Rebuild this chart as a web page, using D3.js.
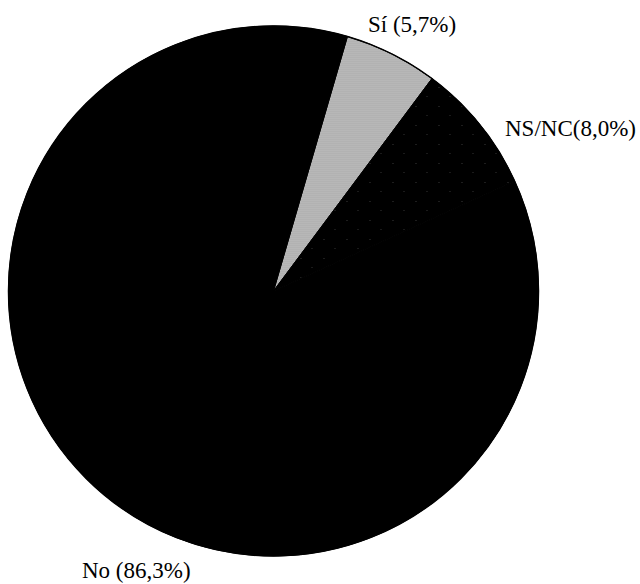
<!DOCTYPE html>
<html>
<head>
<meta charset="utf-8">
<script src="https://cdn.jsdelivr.net/npm/d3@7"></script>
<style>
  html, body { margin: 0; padding: 0; background: #ffffff; }
  svg { display: block; }
</style>
</head>
<body>
<svg id="chart" width="640" height="584"></svg>
<script>
// ---- data ----
const categories = ["Sí", "NS/NC", "No"];
const values = [5.7, 8.0, 86.3];
const labels = ["Sí (5,7%)", "NS/NC(8,0%)", "No (86,3%)"];

// ---- layout ----
const cx = 273.5, cy = 291, R = 265;
const startDeg = 16.2;

const svg = d3.select("#chart");

// patterns
const defs = svg.append("defs");
const dots = defs.append("pattern")
  .attr("id", "dots").attr("patternUnits", "userSpaceOnUse")
  .attr("width", 23).attr("height", 19);
dots.append("rect").attr("width", 23).attr("height", 19).attr("fill", "#000");
dots.append("rect").attr("x", 4).attr("y", 5).attr("width", 1).attr("height", 1).attr("fill", "#3a3a3a");
dots.append("rect").attr("x", 15).attr("y", 14).attr("width", 1).attr("height", 1).attr("fill", "#333");

const grain = defs.append("pattern")
  .attr("id", "grain").attr("patternUnits", "userSpaceOnUse")
  .attr("width", 2).attr("height", 2);
grain.append("rect").attr("width", 2).attr("height", 2).attr("fill", "#c2c2c2");
grain.append("rect").attr("width", 1).attr("height", 1).attr("fill", "#a2a2a2");
grain.append("rect").attr("x", 1).attr("y", 1).attr("width", 1).attr("height", 1).attr("fill", "#acacac");

const fills = d3.scaleOrdinal()
  .domain(categories)
  .range(["url(#grain)", "url(#dots)", "#000000"]);

const pie = d3.pie()
  .sort(null)
  .value(d => d.value)
  .startAngle(startDeg * Math.PI / 180)
  .endAngle(startDeg * Math.PI / 180 + 2 * Math.PI);

const data = categories.map((c, i) => ({ cat: c, value: values[i], label: labels[i] }));
const arcs = pie(data);

const arc = d3.arc().innerRadius(0).outerRadius(R);

const g = svg.append("g").attr("transform", `translate(${cx},${cy})`);

g.selectAll("path.slice")
  .data(arcs)
  .join("path")
  .attr("class", "slice")
  .attr("d", arc)
  .attr("fill", d => fills(d.data.cat))
  .attr("stroke", "#000")
  .attr("stroke-width", 1);

g.append("circle").attr("r", R).attr("fill", "none").attr("stroke", "#000").attr("stroke-width", 1.5);

// labels
const labelPos = {
  "Sí": { x: 368, y: 32 },
  "NS/NC": { x: 505, y: 136 },
  "No": { x: 82, y: 578 }
};

svg.selectAll("text.lbl")
  .data(data)
  .join("text")
  .attr("class", "lbl")
  .attr("x", d => labelPos[d.cat].x)
  .attr("y", d => labelPos[d.cat].y)
  .attr("font-family", "'Liberation Serif', 'Times New Roman', serif")
  .attr("font-size", 23)
  .attr("fill", "#000")
  .text(d => d.label);
</script>
</body>
</html>
